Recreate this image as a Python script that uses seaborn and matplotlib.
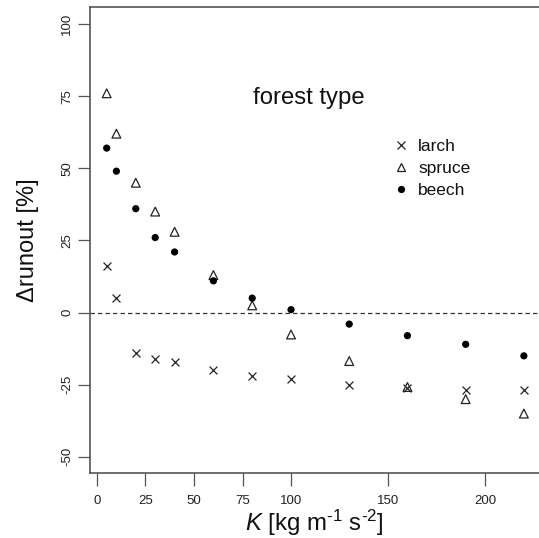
import matplotlib
matplotlib.use("Agg")
import matplotlib.pyplot as plt
import seaborn as sns
import pandas as pd
from matplotlib.lines import Line2D

K = [5, 10, 20, 30, 40, 60, 80, 100, 130, 160, 190, 220]
larch = [16, 5, -14, -16, -17, -20, -22, -23, -25, -26, -27, -27]
spruce = [76, 62, 45, 35, 28, 13, 2.5, -7.6, -16.8, -25.8, -30, -35]
beech = [57, 49, 36, 26, 21, 11, 5, 1, -4, -8, -11, -15]
series_names = ["larch", "spruce", "beech"]
x_ticks = [0, 25, 50, 75, 100, 150, 200]
y_ticks = [-50, -25, 0, 25, 50, 75, 100]

df = pd.DataFrame({
    "K": K * 3,
    "value": larch + spruce + beech,
    "type": [n for n in series_names for _ in K],
})

sns.set_theme(style="white")
plt.rcParams["font.family"] = ["Liberation Sans", "DejaVu Sans"]
plt.rcParams["mathtext.fontset"] = "custom"
plt.rcParams["mathtext.rm"] = "Liberation Sans"
plt.rcParams["mathtext.it"] = "Liberation Sans:italic"

fig = plt.figure(figsize=(5.39, 5.38), dpi=100)
ax = fig.add_axes([90 / 539, 65 / 538, 449 / 539, 466 / 538])

axis_col = "#555555"
ax.axhline(0, color="#333333", lw=0.9, ls=(0, (3.5, 2.5)), zorder=1)

styles = {
    "larch": dict(marker="x", s=32, color="#222222", linewidth=0.9),
    "spruce": dict(marker="^", s=40, facecolor="none", edgecolor="#222222", linewidth=0.9),
    "beech": dict(marker="o", s=27, color="black", edgecolor="none"),
}
for name in series_names:
    sub = df[df["type"] == name]
    sns.scatterplot(data=sub, x="K", y="value", ax=ax, legend=False, zorder=3, **styles[name])

ax.set_xlim(-3.6, 227.8)
ax.set_ylim(-55.6, 105.9)
ax.set_xticks(x_ticks)
ax.set_yticks(y_ticks)
ax.set_xticklabels([str(t) for t in x_ticks], fontsize=9.5)
ax.set_yticklabels([str(t) for t in y_ticks], fontsize=9.5, rotation=90, va="center")
ax.tick_params(axis="both", direction="out", length=9, width=0.9, color=axis_col,
               bottom=True, left=True, labelcolor="#222222")
ax.tick_params(axis="x", pad=7)
ax.tick_params(axis="y", pad=3)
for side in ["left", "bottom", "top"]:
    ax.spines[side].set_color(axis_col)
    ax.spines[side].set_linewidth(1.2)
ax.spines["right"].set_visible(False)

ax.set_xlabel(r"$K$ [kg m$^{\text{-1}}$ s$^{\text{-2}}$]", fontsize=17.3, color="#111111", labelpad=0.5)
ax.set_ylabel("\u0394runout [%]", fontsize=17, color="#111111", labelpad=16)

fig.text(309 / 539, 1 - 98 / 538, "forest type", fontsize=17.2, ha="center", va="center", color="#111111")

handles = [
    Line2D([], [], marker="x", ls="none", color="#222222", markersize=5.5, markeredgewidth=0.9),
    Line2D([], [], marker="^", ls="none", markerfacecolor="none", markeredgecolor="#222222", markersize=6.3, markeredgewidth=0.9),
    Line2D([], [], marker="o", ls="none", color="black", markersize=5.2, markeredgewidth=0),
]
leg = fig.legend(handles, series_names, loc="upper left", bbox_to_anchor=(392 / 539, 1 - 139 / 538),
                 frameon=False, fontsize=12.5, handlelength=1.0, handletextpad=0.5,
                 labelspacing=0.38, borderpad=0, borderaxespad=0)
for t in leg.get_texts():
    t.set_color("#111111")

fig.savefig("out.png", dpi=100)
